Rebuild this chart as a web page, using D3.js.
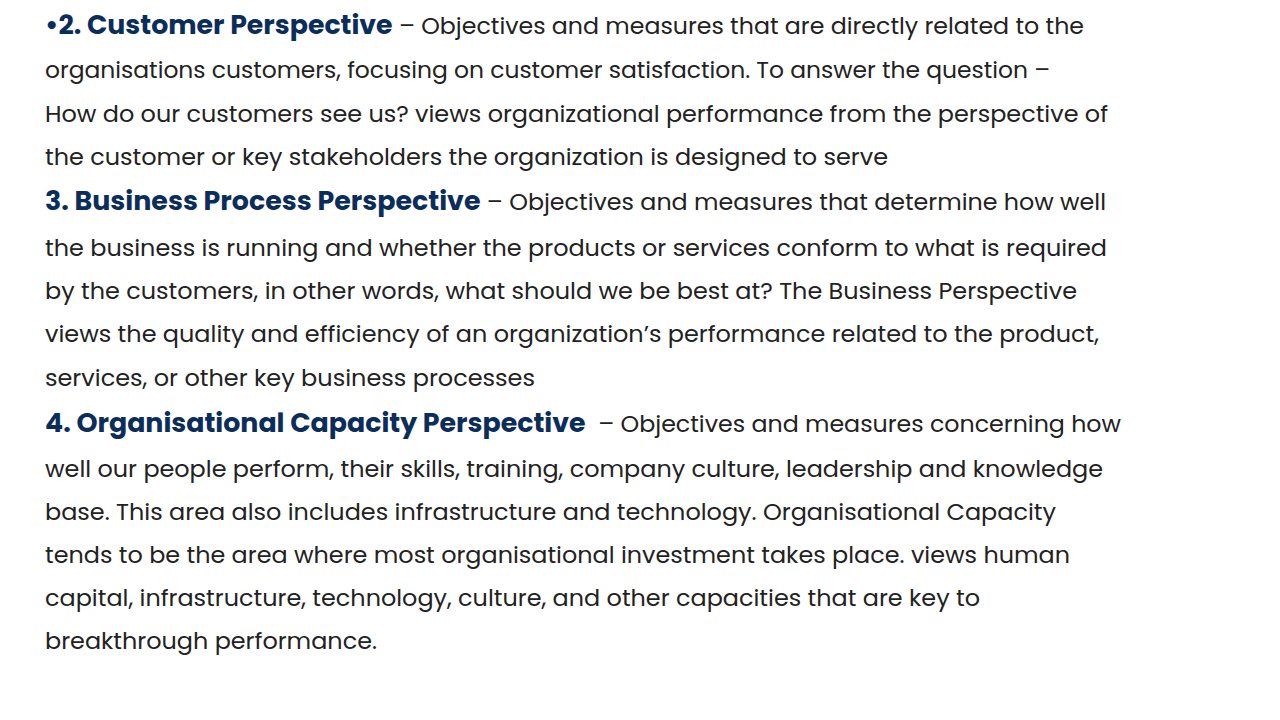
<!DOCTYPE html><html><head><meta charset="utf-8"><script src="https://cdn.jsdelivr.net/npm/d3@7"></script>
<style>body{margin:0;background:#fff}</style></head><body><script>
const boldParts=["•2. Customer Perspective","","","","3. Business Process Perspective","","","","","4. Organisational Capacity Perspective","","","","",""];
const plainParts=[" – Objectives and measures that are directly related to the","organisations customers, focusing on customer satisfaction. To answer the question –","How do our customers see us? views organizational performance from the perspective of","the customer or key stakeholders the organization is designed to serve"," – Objectives and measures that determine how well","the business is running and whether the products or services conform to what is required","by the customers, in other words, what should we be best at? The Business Perspective","views the quality and efficiency of an organization’s performance related to the product,","services, or other key business processes","  – Objectives and measures concerning how","well our people perform, their skills, training, company culture, leadership and knowledge","base. This area also includes infrastructure and technology. Organisational Capacity","tends to be the area where most organisational investment takes place. views human","capital, infrastructure, technology, culture, and other capacities that are key to","breakthrough performance."];
const lineCenters=[26,70,114,157,202,248,291,334,378,424,469,512,555,598,641];
const lineEnds=[1084,1050,1108,888,1106,1107,1077,1099,535,1121,1103,1056,1070,980,377];
const svg=d3.select("body").append("svg").attr("width",1280).attr("height",720);
const t=svg.selectAll("text").data(d3.range(15)).join("text")
 .attr("x",45).attr("y",i=>lineCenters[i]+8)
 .attr("font-family","Poppins, Inter, 'Open Sans', sans-serif").attr("font-size",23)
 .attr("textLength",i=>lineEnds[i]-45).attr("lengthAdjust","spacingAndGlyphs")
 .style("white-space","pre");
t.append("tspan").text(i=>boldParts[i]).attr("font-weight",700).attr("font-size",26).attr("fill","#0b2d5b");
t.append("tspan").text(i=>plainParts[i]).attr("fill","#222").attr("font-weight",400);
</script></body></html>
